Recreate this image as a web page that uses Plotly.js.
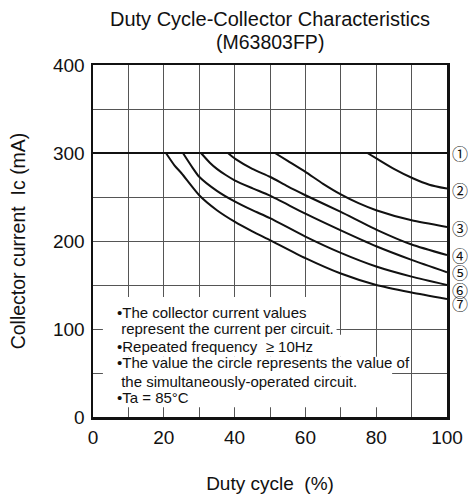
<!DOCTYPE html>
<html>
<head>
<meta charset="utf-8">
<script src="https://cdn.plot.ly/plotly-3.0.1.min.js"></script>
<style>html,body{margin:0;padding:0;background:#fff;}#chart{width:468px;height:500px;}</style>
</head>
<body>
<div id="chart"></div>
<script>
// ---- data ----
const curveNames = ['①', '②', '③', '④', '⑤', '⑥', '⑦'];
const duty1 = [0, 100];
const ic1 = [300, 300];
const duty2 = [77.5, 80.4, 85, 90.5, 95, 100];
const ic2 = [300, 293, 282, 271, 264, 259.5];
const duty3 = [51.4, 55, 60, 65, 70, 75, 80, 90, 100];
const ic3 = [300, 291, 278.5, 265, 253, 243, 235, 223.5, 216];
const duty4 = [38.1, 40.3, 45, 50, 55, 60, 70, 80, 90, 100];
const ic4 = [300, 293, 282, 273, 262, 252, 233, 213, 196, 184];
const duty5 = [30.5, 33, 35, 37.5, 40, 45, 50, 60, 70, 80, 90, 100];
const ic5 = [300, 289, 282, 275, 269, 260, 251.5, 231, 212, 194, 178.5, 164.5];
const duty6 = [25.4, 28, 30, 35, 40, 45, 50, 60, 70, 80, 90, 100];
const ic6 = [300, 284, 273, 257, 245, 235, 226, 205, 186.5, 171, 159.5, 150];
const duty7 = [20.6, 23, 25, 30, 35, 40, 45, 50, 60, 70, 80, 90, 100];
const ic7 = [300, 286, 277, 252, 235, 222, 211, 201, 180.5, 163, 150, 141.5, 134];
const xTicks = [0, 20, 40, 60, 80, 100];
const yTicks = [0, 100, 200, 300, 400];
const titleLine1 = 'Duty Cycle-Collector Characteristics';
const titleLine2 = '(M63803FP)';
const noteLines = [
  '•The collector current values',
  '\u00a0represent the current per circuit.',
  '•Repeated frequency \u00a0≥ 10Hz',
  '•The value the circle represents the value of',
  '\u00a0the simultaneously-operated circuit.',
  '•Ta = 85°C'
];

// ---- chart ----
const FONT = 'Liberation Sans, Arial, Helvetica, sans-serif';
const xs = [duty1, duty2, duty3, duty4, duty5, duty6, duty7];
const ys = [ic1, ic2, ic3, ic4, ic5, ic6, ic7];
const traces = xs.map((x, i) => ({
  x: x, y: ys[i], type: 'scatter', mode: 'lines', name: curveNames[i],
  line: {color: '#111', width: 2, shape: i === 0 ? 'linear' : 'spline', smoothing: 0.6},
  hoverinfo: 'skip', showlegend: false
}));

const labelShift = [0, -1, -1, 0, 0, -5, -4];
const annotations = [];
curveNames.forEach((n, i) => {
  const yv = ys[i];
  annotations.push({
    x: 100, y: yv[yv.length - 1], xref: 'x', yref: 'y', text: n, showarrow: false,
    xanchor: 'left', yanchor: 'middle', xshift: 3, yshift: labelShift[i],
    font: {family: 'Noto Sans CJK JP, DejaVu Sans, sans-serif', size: 16, color: '#111'}
  });
});
const noteY = [119.3, 100.8, 80.6, 61.4, 40.9, 21.6];
noteLines.forEach((t, i) => {
  annotations.push({
    x: 6.2, y: noteY[i], xref: 'x', yref: 'y', text: t, showarrow: false,
    xanchor: 'left', yanchor: 'middle', align: 'left',
    font: {family: FONT, size: 15, color: '#111'}
  });
});
annotations.push({
  x: 0.5, y: 1.066, xref: 'paper', yref: 'paper', text: titleLine2, showarrow: false,
  xanchor: 'center', yanchor: 'middle', font: {family: FONT, size: 19.5, color: '#111'}
});

const maskStyle = {type: 'rect', xref: 'x', yref: 'y', fillcolor: '#fff', line: {width: 0}, layer: 'between'};
const shapes = [
  Object.assign({x0: 2.8, x1: 68.8, y0: 93.3, y1: 136.5}, maskStyle),
  Object.assign({x0: 2.8, x1: 79.7, y0: 68.4, y1: 93.5}, maskStyle),
  Object.assign({x0: 2.8, x1: 84.5, y0: 11, y1: 68.6}, maskStyle)
];

const axisCommon = {
  showline: true, mirror: true, linecolor: '#111', linewidth: 2.5,
  showgrid: true, gridcolor: '#555', gridwidth: 1, zeroline: false,
  ticks: '', tickfont: {family: FONT, size: 19, color: '#111'}
};

const layout = {
  width: 468, height: 500,
  margin: {l: 93, r: 21, t: 65, b: 83},
  paper_bgcolor: '#fff', plot_bgcolor: '#fff',
  font: {family: FONT, color: '#111'},
  title: {
    text: titleLine1,
    font: {family: FONT, size: 20, color: '#111'},
    x: 0.5, xref: 'paper', xanchor: 'center', y: 0.962, yref: 'container', yanchor: 'middle'
  },
  xaxis: Object.assign({}, axisCommon, {
    range: [0, 100], tickmode: 'array', tickvals: xTicks, ticktext: xTicks.map(String),
    minor: {dtick: 10, showgrid: true, gridcolor: '#555', gridwidth: 1},
    ticklabelstandoff: 2,
    title: {text: 'Duty cycle \u00a0(%)', font: {family: FONT, size: 19, color: '#111'}, standoff: 30}
  }),
  yaxis: Object.assign({}, axisCommon, {
    range: [0, 400], tickmode: 'array', tickvals: yTicks, ticktext: yTicks.map(String),
    minor: {dtick: 50, showgrid: true, gridcolor: '#555', gridwidth: 1},
    ticklabelstandoff: 2,
    title: {text: 'Collector current \u00a0Ic (mA)', font: {family: FONT, size: 19.5, color: '#111'}, standoff: 22}
  }),
  annotations: annotations,
  shapes: shapes
};

Plotly.newPlot('chart', traces, layout, {staticPlot: true, displayModeBar: false});
</script>
</body>
</html>
